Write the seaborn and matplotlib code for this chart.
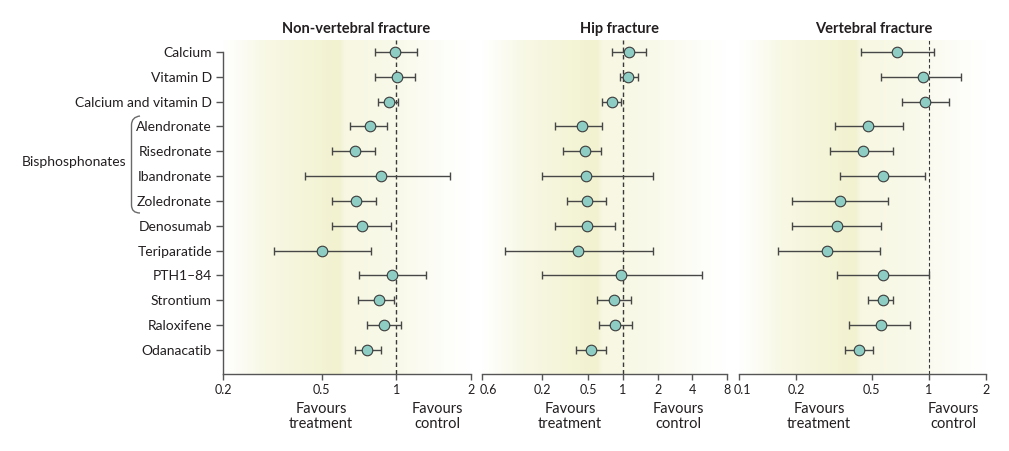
import numpy as np
import pandas as pd
import matplotlib
matplotlib.use("Agg")
import matplotlib.pyplot as plt
import matplotlib.transforms as mtransforms
import seaborn as sns
from matplotlib.path import Path
from matplotlib.patches import PathPatch
from matplotlib.colors import LinearSegmentedColormap

# ---------------- data ----------------
categories = ["Calcium", "Vitamin D", "Calcium and vitamin D", "Alendronate",
              "Risedronate", "Ibandronate", "Zoledronate", "Denosumab",
              "Teriparatide", "PTH1–84", "Strontium", "Raloxifene", "Odanacatib"]

nonvert_est = [0.99, 1.01, 0.93, 0.78, 0.68, 0.87, 0.69, 0.73, 0.50, 0.96, 0.85, 0.89, 0.76]
nonvert_lo  = [0.82, 0.82, 0.84, 0.65, 0.55, 0.43, 0.55, 0.55, 0.32, 0.71, 0.70, 0.76, 0.68]
nonvert_hi  = [1.21, 1.19, 1.02, 0.92, 0.82, 1.64, 0.83, 0.95, 0.79, 1.32, 0.98, 1.04, 0.87]

hip_est = [1.12, 1.11, 0.81, 0.44, 0.47, 0.48, 0.49, 0.49, 0.41, 0.96, 0.84, 0.85, 0.53]
hip_lo  = [0.81, 0.94, 0.66, 0.26, 0.30, 0.20, 0.33, 0.26, 0.095, 0.20, 0.60, 0.62, 0.39]
hip_hi  = [1.60, 1.34, 0.96, 0.66, 0.65, 1.82, 0.72, 0.85, 1.82, 4.84, 1.18, 1.19, 0.72]

vert_est = [0.68, 0.93, 0.95, 0.48, 0.45, 0.57, 0.34, 0.33, 0.29, 0.57, 0.57, 0.56, 0.43]
vert_lo  = [0.44, 0.56, 0.72, 0.32, 0.30, 0.34, 0.19, 0.19, 0.16, 0.33, 0.48, 0.38, 0.36]
vert_hi  = [1.07, 1.48, 1.28, 0.73, 0.65, 0.95, 0.61, 0.56, 0.55, 1.00, 0.65, 0.80, 0.51]

titles = ["Non-vertebral fracture", "Hip fracture", "Vertebral fracture"]
group_label = "Bisphosphonates"

nonvert_ticks = [0.2, 0.5, 1, 2]
nonvert_ticklabels = ["0.2", "0.5", "1", "2"]
hip_ticks = [0.06, 0.2, 0.5, 1, 2, 4, 8]
hip_ticklabels = ["0.6", "0.2", "0.5", "1", "2", "4", "8"]
vert_ticks = [0.1, 0.2, 0.5, 1, 2]
vert_ticklabels = ["0.1", "0.2", "0.5", "1", "2"]

left_note = "Favours\ntreatment"
right_note = "Favours\ncontrol"

# ---------------- style ----------------
sns.set_theme(style="white")
plt.rcParams['font.family'] = ['Lato', 'DejaVu Sans']
TXT = "#231f20"
AXC = "#555555"
FACE = "#8dcdc3"
EDGE = "#3c3c3c"
BAR = "#474747"

W, H = 1009, 451
fig = plt.figure(figsize=(W / 100, H / 100), dpi=100)

def rect(x0, x1, y0, y1):
    return [x0 / W, 1 - y1 / H, (x1 - x0) / W, (y1 - y0) / H]

panel_px = [(223, 471), (482, 727), (739, 986)]
top_px, bot_px = 40, 374
ylim = (12.97, -0.48)

# gradient background colormap
bg_cmap = LinearSegmentedColormap.from_list("bg", ["#ffffff", "#f2f2d0"])
xs = np.linspace(0, 1, 400)
prof = np.interp(xs, [0, 0.05, 0.17, 0.47, 0.49, 0.72, 0.9, 1.0],
                     [0.0, 0.15, 0.55, 1.0, 0.62, 0.42, 0.12, 0.0])
bg_img = bg_cmap(prof)[None, :, :]

datasets = [
    (nonvert_est, nonvert_lo, nonvert_hi, nonvert_ticks, nonvert_ticklabels),
    (hip_est, hip_lo, hip_hi, hip_ticks, hip_ticklabels),
    (vert_est, vert_lo, vert_hi, vert_ticks, vert_ticklabels),
]
title_x = [356, 620, 874]
note_x = [(321, 437), (570, 678), (819, 953)]
first_shift = [0, 6, 3]

ypos = np.arange(len(categories))

for i, ((x0, x1), (est, lo, hi, ticks, tlabels)) in enumerate(zip(panel_px, datasets)):
    # background
    bg = fig.add_axes(rect(x0, x1, top_px, bot_px), zorder=0)
    bg.imshow(bg_img, aspect="auto", extent=(0, 1, 0, 1), interpolation="bilinear")
    bg.set_axis_off()

    ax = fig.add_axes(rect(x0, x1, top_px, bot_px), zorder=1)
    ax.patch.set_alpha(0)
    df = pd.DataFrame({"cat": categories, "y": ypos, "est": est, "lo": lo, "hi": hi})
    ax.set_xscale("log")
    ax.axvline(1, color="#3a3a3a", lw=1.0 if i < 2 else 0.8, ls=(0, (3.2, 2.2)), zorder=1)
    ax.errorbar(df["est"], df["y"],
                xerr=[df["est"] - df["lo"], df["hi"] - df["est"]],
                fmt="none", ecolor=BAR, elinewidth=1.0, capsize=2.6,
                capthick=1.0, zorder=2)
    sns.scatterplot(data=df, x="est", y="y", ax=ax, s=58, color=FACE,
                    edgecolor=EDGE, linewidth=0.8, zorder=3, legend=False)
    ax.set_xlim(ticks[0], ticks[-1])
    ax.set_ylim(*ylim)
    ax.set_xticks(ticks)
    ax.set_xticklabels(tlabels)
    ax.xaxis.set_minor_locator(matplotlib.ticker.NullLocator())
    ax.set_xlabel("")
    ax.set_ylabel("")
    for s in ["top", "right"]:
        ax.spines[s].set_visible(False)
    ax.spines["bottom"].set_color(AXC)
    ax.spines["bottom"].set_linewidth(1.0)
    ax.tick_params(axis="x", direction="out", length=4, width=1.0, color=AXC,
                   labelsize=9, labelcolor=TXT, pad=3, bottom=True)
    if first_shift[i]:
        lab = ax.get_xticklabels()[0]
        off = mtransforms.ScaledTranslation(first_shift[i] / 100, 0, fig.dpi_scale_trans)
        lab.set_transform(lab.get_transform() + off)
    if i == 0:
        ax.spines["left"].set_color(AXC)
        ax.spines["left"].set_linewidth(1.0)
        ax.spines["left"].set_bounds(0, ylim[0])
        ax.set_yticks(ypos)
        ax.set_yticklabels(categories)
        ax.tick_params(axis="y", direction="out", length=5, width=1.0, color=AXC,
                       labelsize=10, labelcolor=TXT, pad=3, left=True)
    else:
        ax.spines["left"].set_visible(False)
        ax.set_yticks([])

    fig.text(title_x[i] / W, 1 - 29 / H, titles[i], ha="center", va="center",
             fontsize=10.5, fontweight="bold", color=TXT)
    fig.text(note_x[i][0] / W, 1 - 402 / H, left_note, ha="center", va="top",
             fontsize=10.5, color=TXT, linespacing=1.05)
    fig.text(note_x[i][1] / W, 1 - 402 / H, right_note, ha="center", va="top",
             fontsize=10.5, color=TXT, linespacing=1.05)

# group bracket for bisphosphonates
def fp(x, y):
    return (x / W, 1 - y / H)

verts = [fp(140, 116), fp(131.5, 117), fp(131.5, 125),
         fp(131.5, 205),
         fp(131.5, 213), fp(140, 213)]
codes = [Path.MOVETO, Path.CURVE3, Path.CURVE3, Path.LINETO, Path.CURVE3, Path.CURVE3]
fig.add_artist(PathPatch(Path(verts, codes), transform=fig.transFigure,
                         fill=False, edgecolor="#6a6a6a", lw=1.0))
fig.text(126 / W, 1 - 162 / H, group_label, ha="right", va="center",
         fontsize=10, color=TXT)

fig.savefig("out.png", dpi=100)
